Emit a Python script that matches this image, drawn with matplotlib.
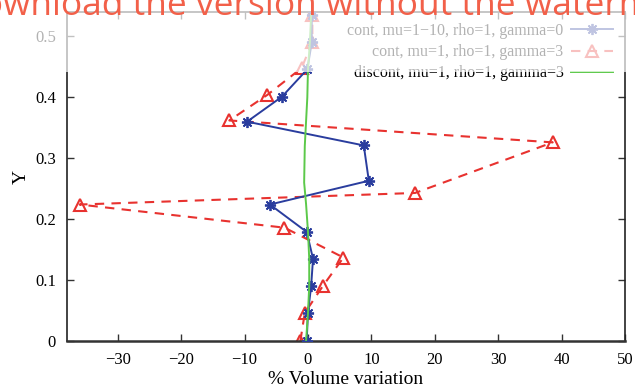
import matplotlib
matplotlib.use("Agg")
import matplotlib.pyplot as plt
from matplotlib.patches import Rectangle

# ---- data ----
blue_x = [-0.2, 0.0, 0.5, 0.8, -0.2, -6.0, 9.6, 8.8, -9.6, -4.1, -0.1, 0.6, 0.6]
blue_y = [0.0, 0.046, 0.090, 0.135, 0.179, 0.224, 0.263, 0.321, 0.360, 0.401, 0.446, 0.490, 0.535]

red_x = [-1.2, -0.5, 2.4, 5.6, -3.7, -36.0, 16.9, 38.6, -12.4, -6.4, -1.0, 0.7, 0.7]
red_y = [0.0, 0.046, 0.091, 0.137, 0.186, 0.224, 0.243, 0.326, 0.362, 0.404, 0.448, 0.491, 0.535]

green_x = [-0.3, 0.0, 0.2, 0.2, 0.0, -0.3, -0.6, -0.5, -0.3, -0.1, 0.0, 0.3, 0.5]
green_y = [0.0, 0.045, 0.090, 0.135, 0.180, 0.225, 0.260, 0.320, 0.360, 0.400, 0.445, 0.490, 0.535]

labels = ["cont, mu=1\u221210, rho=1, gamma=0",
          "cont, mu=1, rho=1, gamma=3",
          "discont, mu=1, rho=1, gamma=3"]

x_ticks = [-30, -20, -10, 0, 10, 20, 30, 40, 50]
y_ticks = [0, 0.1, 0.2, 0.3, 0.4, 0.5]
y_tick_labels = ["0", "0.1", "0.2", "0.3", "0.4", "0.5"]

plt.rcParams['font.family'] = ['Liberation Serif', 'DejaVu Serif']

W, H = 635, 389
fig = plt.figure(figsize=(W / 100, H / 100), dpi=100)
ax = fig.add_axes([67 / W, 1 - 341 / H, (625 - 67) / W, (341 - 12) / H])

blue = '#2a3d9e'
red = '#e8322f'
green = '#5cc94a'

ax.plot(blue_x, blue_y, color=blue, lw=1.4, marker=(8, 2, 0), ms=8, mew=1.3,
        label=labels[0], zorder=3)
ax.plot(red_x, red_y, color=red, lw=1.5, ls=(0, (4.5, 3.5)), marker='^', ms=9,
        mfc='none', mew=1.5, label=labels[1], zorder=2)
ax.plot(green_x, green_y, color=green, lw=1.4, label=labels[2], zorder=4)

ax.set_xlim(-38, 50)
ax.set_ylim(0, 0.54)
ax.set_xticks(x_ticks)
ax.set_yticks(y_ticks)
ax.set_yticklabels(y_tick_labels)
ax.tick_params(direction='in', length=5, width=1, top=True, right=True,
               labelsize=12, pad=8, colors='#333333', labelcolor='black')
for s in ax.spines.values():
    s.set_linewidth(1.2)
    s.set_color('#222222')
ax.spines['bottom'].set_linewidth(1.8)
ax.spines['bottom'].set_color('#333333')

ax.set_xlabel("% Volume variation", fontsize=14, labelpad=2)
ax.set_ylabel("Y", fontsize=14, labelpad=4)

leg = fig.legend(loc='upper right', bbox_to_anchor=(613 / W, 1 - 23 / H),
                 bbox_transform=fig.transFigure, frameon=False,
                 markerfirst=False, fontsize=11.5, handlelength=2.6,
                 handletextpad=0.5, labelspacing=0.32, borderpad=0,
                 borderaxespad=0)
for t in leg.get_texts():
    t.set_ha('right')

# watermark band overlay
fig.patches.append(Rectangle((0, 1 - 72 / H), 1, 72 / H, transform=fig.transFigure,
                             facecolor='white', alpha=0.7, edgecolor='none',
                             zorder=10))
fig.text(0.52, 1 - 15 / H, "Download the version without the watermark",
         fontsize=25.5, family='Open Sans', color='#f26049', ha='center',
         va='baseline', zorder=11)

fig.savefig("out.png", dpi=100)
